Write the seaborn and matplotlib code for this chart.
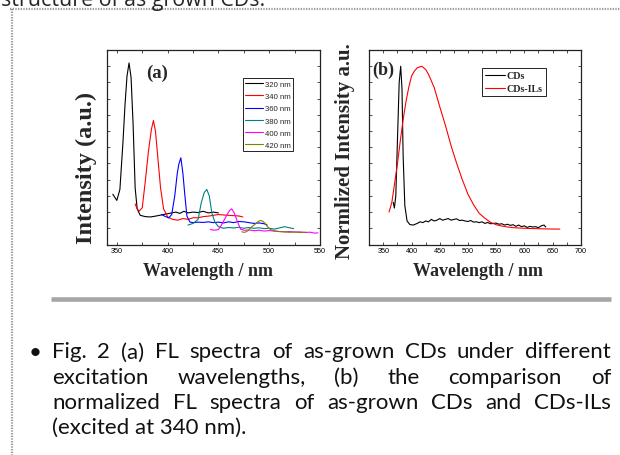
import matplotlib
matplotlib.use("Agg")
import matplotlib.pyplot as plt
import seaborn as sns
import pandas as pd
from matplotlib.lines import Line2D

# %% data
# (a) FL spectra under different excitation wavelengths
ex_labels = ["320 nm", "340 nm", "360 nm", "380 nm", "400 nm", "420 nm"]
ex_colors = ["#000000", "#ff0000", "#0000ff", "#008080", "#ff00ff", "#808000"]

wl_320 = [346, 350, 353, 356, 358, 360, 362, 364, 366, 368, 370, 373, 378, 383, 388,
          392, 396, 400, 404, 408, 412, 416, 420, 425, 430, 435, 440, 445, 450]
int_320 = [3.1, 2.72, 3.4, 6.3, 8.6, 10.4, 11.2, 10.3, 7.4, 3.5, 2.2, 1.8, 1.72, 1.7, 1.75,
           1.8, 1.85, 1.9, 1.95, 2.0, 1.92, 2.05, 1.95, 2.0, 1.97, 2.05, 1.95, 2.0, 1.95]

wl_340 = [368, 370, 372, 375, 378, 381, 384, 386, 388, 390, 393, 396, 400, 405,
          410, 415, 420, 425, 430, 435, 440, 445, 450, 455, 460, 465, 470, 474]
int_340 = [2.5, 2.2, 2.06, 2.27, 3.9, 5.7, 7.1, 7.65, 7.0, 5.6, 3.5, 2.2, 1.7, 1.55,
           1.5, 1.6, 1.55, 1.65, 1.65, 1.72, 1.75, 1.8, 1.85, 1.82, 1.8, 1.78, 1.76, 1.7]

wl_360 = [394, 397, 401, 404, 407, 409.5, 411, 413, 415, 417, 419, 422, 426, 430,
          435, 440, 445, 450, 455, 460, 465, 470, 475, 480, 485, 490, 495, 498]
int_360 = [1.85, 1.75, 1.64, 1.85, 3.0, 4.4, 4.95, 5.35, 4.4, 3.0, 1.75, 1.38, 1.35, 1.38,
           1.36, 1.4, 1.35, 1.38, 1.33, 1.4, 1.35, 1.42, 1.4, 1.35, 1.3, 1.33, 1.28, 1.2]

wl_380 = [420, 425, 430, 433, 436, 438.5, 441, 443.5, 446.5, 450, 455, 460, 465,
          470, 475, 480, 485, 490, 495, 500, 505, 510, 515, 520, 524]
int_380 = [1.2, 1.3, 1.55, 2.55, 3.2, 3.4, 3.0, 1.95, 1.38, 1.1, 1.0, 1.05, 1.02,
           1.06, 1.0, 1.05, 1.0, 1.03, 0.98, 1.0, 0.95, 1.02, 1.1, 1.03, 0.98]

wl_400 = [442, 446, 450, 453, 456, 459, 461, 463, 465.5, 468.5, 472, 476, 480, 485,
          490, 495, 500, 505, 510, 515, 520, 525, 530, 535, 540, 545, 548]
int_400 = [0.93, 0.88, 0.92, 1.2, 1.55, 1.9, 2.1, 2.2, 1.96, 1.44, 0.93, 0.88, 0.9, 0.85,
           0.88, 0.83, 0.86, 0.82, 0.8, 0.78, 0.8, 0.76, 0.78, 0.74, 0.76, 0.7, 0.72]

wl_420 = [473, 476, 479, 482, 485, 488, 490, 492, 494, 496, 498, 501, 505, 510,
          515, 520, 525, 530, 536]
int_420 = [0.78, 0.75, 0.85, 1.05, 1.2, 1.35, 1.45, 1.48, 1.42, 1.3, 1.12, 0.93, 0.85, 0.8,
           0.78, 0.75, 0.78, 0.74, 0.76]

# (b) normalized spectra, excited at 340 nm
b_labels = ["CDs", "CDs-ILs"]
b_colors = ["#000000", "#ff0000"]

cds_wl = [367.5, 369.5, 372, 375, 378, 380.7, 383, 385, 388, 392, 397, 403,
          410, 415, 420, 425, 430, 435, 440, 445, 450, 455, 460, 465, 470, 475, 480,
          485, 490, 495, 500, 505, 510, 515, 520, 525, 530, 535, 540, 545, 550, 555,
          560, 565, 570, 575, 580, 585, 590, 595, 600, 605, 610, 615, 620, 625, 630,
          635, 638]
cds_int = [0.16, 0.125, 0.2, 0.55, 0.9, 1.0, 0.86, 0.45, 0.14, 0.045, 0.023, 0.02,
           0.03, 0.04, 0.035, 0.045, 0.04, 0.055, 0.045, 0.05, 0.06, 0.05, 0.055, 0.06,
           0.05, 0.055, 0.058, 0.048, 0.05, 0.045, 0.042, 0.048, 0.038, 0.04, 0.035, 0.04,
           0.03, 0.036, 0.028, 0.03, 0.032, 0.025, 0.028, 0.02, 0.025, 0.018, 0.022, 0.012,
           0.02, 0.01, 0.015, 0.005, 0.012, 0.008, 0.01, 0.004, 0.015, 0.02, 0.008]

il_wl = [360, 365, 370, 375, 380, 385, 390, 395, 400, 405, 410, 418, 425, 430, 440,
         450, 460, 470, 480, 490, 500, 510, 520, 530, 540, 550, 560, 570, 580, 590,
         600, 620, 640, 663]
il_int = [0.10, 0.16, 0.28, 0.40, 0.54, 0.67, 0.78, 0.87, 0.94, 0.97, 0.99, 1.0, 0.98,
          0.95, 0.87, 0.75, 0.635, 0.51, 0.40, 0.30, 0.21, 0.145, 0.092, 0.062, 0.037,
          0.022, 0.014, 0.008, 0.004, 0.002, 0.0, -0.002, -0.004, -0.005]

top_line = "structure of as grown CDs."
caption = [
    "Fig. 2 (a) FL spectra of as-grown CDs under different",
    "excitation wavelengths, (b) the comparison of",
    "normalized FL spectra of as-grown CDs and CDs-ILs",
    "(excited at 340 nm).",
]

# %% figure
W, H = 620, 456
sns.set_theme(style="ticks")
plt.rcParams["font.family"] = ["Liberation Sans", "DejaVu Sans"]

fig = plt.figure(figsize=(W / 100, H / 100), dpi=100)
fig.patch.set_facecolor("white")


def px_box(left, top, right, bottom):
    return [left / W, 1 - bottom / H, (right - left) / W, (bottom - top) / H]


ax_a = fig.add_axes(px_box(106.7, 51, 320, 245.5))
ax_b = fig.add_axes(px_box(369.3, 51, 580.7, 245.5))

df_a = pd.concat(
    [
        pd.DataFrame({"wl": x, "I": y, "ex": lab})
        for x, y, lab in zip(
            [wl_320, wl_340, wl_360, wl_380, wl_400, wl_420],
            [int_320, int_340, int_360, int_380, int_400, int_420],
            ex_labels,
        )
    ]
)
df_b = pd.concat(
    [
        pd.DataFrame({"wl": cds_wl, "I": cds_int, "s": "CDs"}),
        pd.DataFrame({"wl": il_wl, "I": il_int, "s": "CDs-ILs"}),
    ]
)

sns.lineplot(data=df_a, x="wl", y="I", hue="ex", hue_order=ex_labels, palette=ex_colors,
             estimator=None, sort=False, linewidth=0.8, legend=False, ax=ax_a)
sns.lineplot(data=df_b, x="wl", y="I", hue="s", hue_order=b_labels, palette=b_colors,
             estimator=None, sort=False, linewidth=0.8, legend=False, ax=ax_b)


def style_axes(ax, xlim, ylim, xmajor, xminor, yticks):
    ax.set_xlim(*xlim)
    ax.set_ylim(*ylim)
    ax.set_xticks(xmajor)
    ax.set_xticks(xminor, minor=True)
    ax.set_yticks(yticks)
    ax.set_yticklabels([])
    ax.tick_params(which="both", direction="in", top=True, right=True, length=2.2,
                   width=0.6, color="#333333", labelsize=5.2, pad=1.6, labelcolor="black")
    for s in ax.spines.values():
        s.set_visible(True)
        s.set_linewidth(0.9)
        s.set_color("#222222")
    ax.grid(False)


style_axes(ax_a, (340, 550), (0, 12), range(350, 551, 50), range(375, 550, 50), range(1, 12))
style_axes(ax_b, (325, 700), (-0.1, 1.1), range(350, 701, 50), range(375, 700, 50),
           [i / 10 for i in range(0, 11)])

serif_bold = dict(family="Liberation Serif", weight="bold")
ax_a.set_xlabel("Wavelength / nm", fontsize=13, **serif_bold)
ax_a.xaxis.set_label_coords(0.475, -0.09)
ax_b.set_xlabel("Wavelength / nm", fontsize=13, **serif_bold)
ax_b.xaxis.set_label_coords(0.512, -0.09)
ax_a.set_ylabel("Intensity (a.u.)", fontsize=17.5, va="center", **serif_bold)
ax_a.yaxis.set_label_coords(-0.095, 0.40)
ax_b.set_ylabel("Normlized Intensity a.u.", fontsize=15, va="center", **serif_bold)
ax_b.yaxis.set_label_coords(-0.115, 0.483)

ax_a.text(0.238, 0.884, "(a)", transform=ax_a.transAxes, ha="center", va="center",
          fontsize=13.5, **serif_bold)
ax_b.text(0.065, 0.902, "(b)", transform=ax_b.transAxes, ha="center", va="center",
          fontsize=13, **serif_bold)

leg_a = ax_a.legend(
    [Line2D([], [], color=c, lw=0.8) for c in ex_colors], ex_labels,
    loc="upper left", bbox_to_anchor=(243 / W, 1 - 79 / H), bbox_transform=fig.transFigure,
    prop=dict(family="Liberation Sans", size=5.6), frameon=True, fancybox=False,
    edgecolor="black", framealpha=1, borderpad=0.3, labelspacing=0.62,
    handlelength=2.3, handletextpad=0.2, borderaxespad=0,
)
leg_a.get_frame().set_linewidth(0.6)

leg_b = ax_b.legend(
    [Line2D([], [], color=c, lw=0.8) for c in b_colors], b_labels,
    loc="upper left", bbox_to_anchor=(482.3 / W, 1 - 69.3 / H), bbox_transform=fig.transFigure,
    prop=dict(family="Liberation Serif", weight="bold", size=7.2), frameon=True,
    fancybox=False, edgecolor="black", framealpha=1, borderpad=0.3, labelspacing=0.4,
    handlelength=2.0, handletextpad=0.15, borderaxespad=0,
)
leg_b.get_frame().set_linewidth(0.6)

# %% page decorations
dot = dict(color="#9a9a9a", linewidth=1.6, linestyle=(0, (0.6, 0.6)), transform=fig.transFigure)
fig.add_artist(Line2D([10 / W, 1], [1 - 10 / H, 1 - 10 / H], **dot))
fig.add_artist(Line2D([11.5 / W, 11.5 / W], [1 - 10 / H, 0], **dot))
fig.add_artist(Line2D([51 / W, 611 / W], [1 - 299.5 / H, 1 - 299.5 / H], color="#a6a6a6",
                      linewidth=3.3, solid_capstyle="butt", transform=fig.transFigure))

renderer = fig.canvas.get_renderer()

top = fig.text(1 / W, 1 - 6 / H, top_line, family="Open Sans", fontsize=10, va="baseline")
probe = fig.text(0, 0, "structure of as grow", family="Open Sans", fontsize=10)
scale = 200 / probe.get_window_extent(renderer).width
probe.remove()
top.set_fontsize(10 * scale)

cap_kw = dict(family="Lato", fontsize=16, va="baseline", color="#111111")
x0, x1 = 52, 611
for i, line in enumerate(caption):
    y = 1 - (358.5 + 25.2 * i) / H
    if i == len(caption) - 1:
        fig.text(x0 / W, y, line, **cap_kw)
        continue
    words = [fig.text(0, y, w, **cap_kw) for w in line.split(" ")]
    widths = [t.get_window_extent(renderer).width for t in words]
    gap = (x1 - x0 - sum(widths)) / (len(words) - 1)
    x = x0
    for t, w in zip(words, widths):
        t.set_x(x / W)
        x += w + gap
fig.text(35 / W, 1 - 358.5 / H, "\u2022", ha="center", **cap_kw)

fig.savefig("out.png", dpi=100)
